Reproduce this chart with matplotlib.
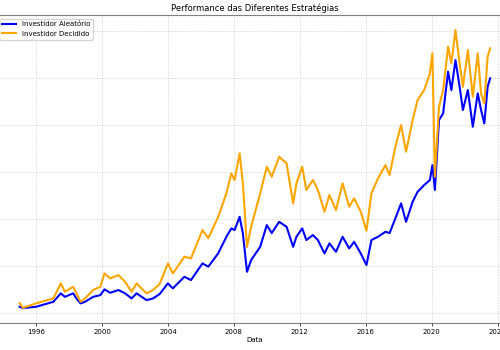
import numpy as np
import matplotlib
matplotlib.use('Agg')
import matplotlib.pyplot as plt

# values (thousands), x in decimal years
anos = [1995.0, 1995.2, 1996.0, 1997.05, 1997.5, 1997.75, 1998.25, 1998.45, 1998.7, 1998.97,
        1999.47, 1999.9, 2000.15, 2000.5, 2001.0, 2001.4, 2001.8, 2002.1, 2002.7, 2003.1,
        2003.5, 2004.0, 2004.3, 2005.0, 2005.4, 2006.1, 2006.45, 2007.05, 2007.55, 2007.85,
        2008.05, 2008.35, 2008.55, 2008.8, 2009.05, 2009.6, 2010.0, 2010.3, 2010.75, 2011.2,
        2011.6, 2011.8, 2012.15, 2012.4, 2012.8, 2013.1, 2013.5, 2013.8, 2014.2, 2014.6,
        2015.0, 2015.3, 2015.7, 2016.05, 2016.35, 2016.75, 2017.2, 2017.45, 2017.8, 2018.15,
        2018.45, 2018.85, 2019.15, 2019.55, 2019.9, 2020.05, 2020.2, 2020.45, 2020.7, 2021.0,
        2021.2, 2021.45, 2021.7, 2021.9, 2022.2, 2022.5, 2022.8, 2023.0, 2023.2, 2023.4, 2023.55]

aleatorio = [6.7, 5.3, 6.7, 12.0, 21.0, 17.3, 21.0, 15.6, 10.3, 12.0,
             17.3, 19.1, 25.2, 21.6, 24.5, 21.0, 15.6, 21.0, 13.8, 15.6,
             20.2, 31.6, 26.3, 38.6, 35.1, 52.9, 49.3, 63.5, 81.2, 90.1,
             88.3, 102.4, 84.8, 43.9, 56.4, 70.5, 93.6, 85.1, 97.1, 91.8,
             70.5, 81.2, 90.1, 77.7, 83.0, 77.7, 63.5, 74.1, 65.2, 81.2,
             68.8, 75.8, 63.5, 51.1, 77.7, 81.2, 86.5, 85.1, 100.7, 116.7,
             97.1, 118.4, 129.0, 136.2, 141.5, 157.4, 130.9, 205.3, 212.4, 256.7,
             237.2, 269.1, 240.7, 216.0, 237.2, 198.2, 233.7, 216.0, 201.8, 240.7, 249.7]

decidido = [10.6, 5.6, 10.3, 15.6, 31.6, 22.7, 28.0, 21.0, 12.0, 15.6,
            24.5, 28.0, 42.2, 36.9, 40.4, 33.3, 22.7, 31.6, 21.0, 24.5,
            30.9, 52.9, 42.2, 59.9, 58.2, 88.3, 79.5, 102.4, 127.3, 148.6,
            141.5, 169.9, 138.0, 70.5, 91.8, 127.3, 155.6, 145.0, 166.3, 159.3,
            116.7, 138.0, 155.6, 130.9, 141.5, 130.9, 107.8, 125.5, 109.6, 138.0,
            113.1, 122.0, 107.8, 87.6, 127.3, 143.3, 157.4, 146.8, 176.9, 200.0,
            171.6, 205.3, 226.6, 237.2, 255.0, 276.3, 145.0, 219.5, 237.2, 283.3,
            265.6, 301.1, 265.6, 240.7, 279.8, 230.1, 276.3, 233.7, 223.1, 272.7, 281.6]

fig = plt.figure(figsize=(5, 3.5), dpi=100)
ax = fig.add_axes([-0.008, 0.077, 1.036, 0.88])

ax.plot(anos, aleatorio, color='blue', lw=1.5, label='Investidor Aleatório')
ax.plot(anos, decidido, color='orange', lw=1.5, label='Investidor Decidido')

ax.set_xlim(1993.57, 2025.0)
ax.set_ylim(-10.6, 317.0)
ax.set_xticks(np.arange(1996, 2025, 4))
ax.set_yticks(np.arange(0, 301, 50))
ax.tick_params(labelsize=5, length=2, width=0.5, pad=2, labelleft=False)

ax.grid(True, linestyle=(0, (2, 2)), color='0.8', lw=0.5)
for s in ax.spines.values():
    s.set_color('0.5')

ax.set_title('Performance das Diferentes Estratégias', fontsize=6, pad=3)
ax.set_xlabel('Data', fontsize=5, labelpad=2)
ax.legend(loc='upper left', fontsize=5, frameon=True)

fig.savefig('out.png', dpi=100)
